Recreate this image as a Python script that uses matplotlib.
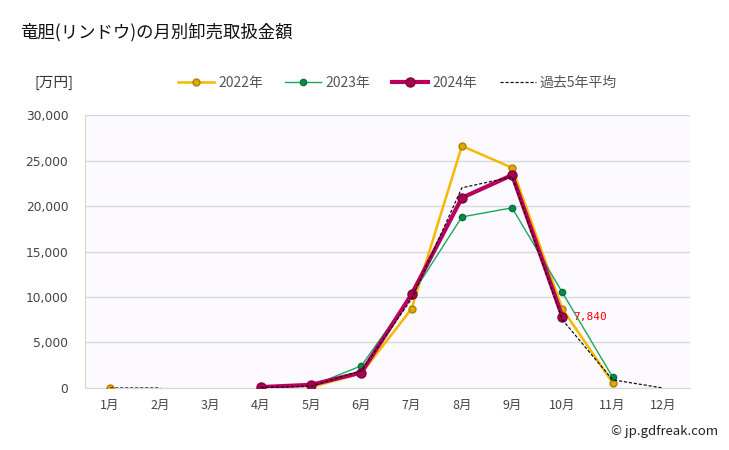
import matplotlib.pyplot as plt
import numpy as np

plt.rcParams['font.family'] = ['Noto Sans CJK JP', 'DejaVu Sans']

months = ['1月', '2月', '3月', '4月', '5月', '6月', '7月', '8月', '9月', '10月', '11月', '12月']
nan = np.nan
v2022 = [0, nan, nan, nan, 100, 1600, 8700, 26600, 24200, 8700, 580, nan]
v2023 = [nan, nan, nan, nan, 200, 2450, 10200, 18800, 19800, 10500, 1200, nan]
v2024 = [nan, nan, nan, 100, 350, 1700, 10300, 20900, 23400, 7840, nan, nan]
avg5 = [0, 0, nan, 50, 200, 1900, 9800, 22000, 23200, 7500, 900, 0]

x = np.arange(1, 13)

fig = plt.figure(figsize=(7.29, 4.5), dpi=100)
ax = fig.add_axes([0.1166, 0.1378, 0.8299, 0.6066])
ax.set_facecolor('#fcfafe')

ax.plot(x, v2022, color='#f7b800', lw=1.8, marker='o', ms=5,
        mfc='#e0a800', mec='#b08000', label='2022年', zorder=3)
ax.plot(x, v2023, color='#1aa860', lw=1.0, marker='o', ms=4.5,
        mfc='#0c8a48', mec='#06703a', label='2023年', zorder=3)
ax.plot(x, v2024, color='#b8005c', lw=3.0, marker='o', ms=6.5,
        mfc='#a8004f', mec='#80003c', label='2024年', zorder=4)
ax.plot(x, avg5, color='#111111', lw=0.9, ls=(0, (2.5, 1.5)), label='過去5年平均', zorder=5)

ax.text(10.22, 7840, '7,840', color='red', fontsize=8, va='center', ha='left',
        family='DejaVu Sans Mono')

ax.set_xlim(0.5, 12.54)
ax.set_ylim(0, 30000)
ax.set_xticks(x)
ax.set_xticklabels(months, fontsize=9, color='#444444')
ax.set_yticks(np.arange(0, 30001, 5000))
ax.set_yticklabels([f'{v:,}' for v in range(0, 30001, 5000)], fontsize=8.8, color='#444444',
                   family='DejaVu Sans')
ax.tick_params(axis='y', length=0, pad=12)
ax.tick_params(axis='x', length=0, pad=8)
ax.grid(axis='y', color='#d8d8d8', lw=1)
ax.set_axisbelow(True)
for s in ['top', 'right']:
    ax.spines[s].set_visible(False)
ax.spines['left'].set_color('#d8d8cc')
ax.spines['bottom'].set_color('#d8d8d8')

fig.text(0.027, 0.928, '竜胆(リンドウ)の月別卸売取扱金額', fontsize=12.5, color='#111111', va='center')
fig.text(0.048, 0.815, '[万円]', fontsize=10.5, color='#333333', va='center')
fig.text(0.985, 0.04, '© jp.gdfreak.com', fontsize=9.5, color='#222222', ha='right', va='center')

leg = fig.legend(loc='center', bbox_to_anchor=(0.545, 0.815), ncol=4, frameon=False,
                 fontsize=10, handlelength=2.6, columnspacing=1.6, handletextpad=0.3)
for t in leg.get_texts():
    t.set_color('#555555')

fig.savefig('out.png', dpi=100)
